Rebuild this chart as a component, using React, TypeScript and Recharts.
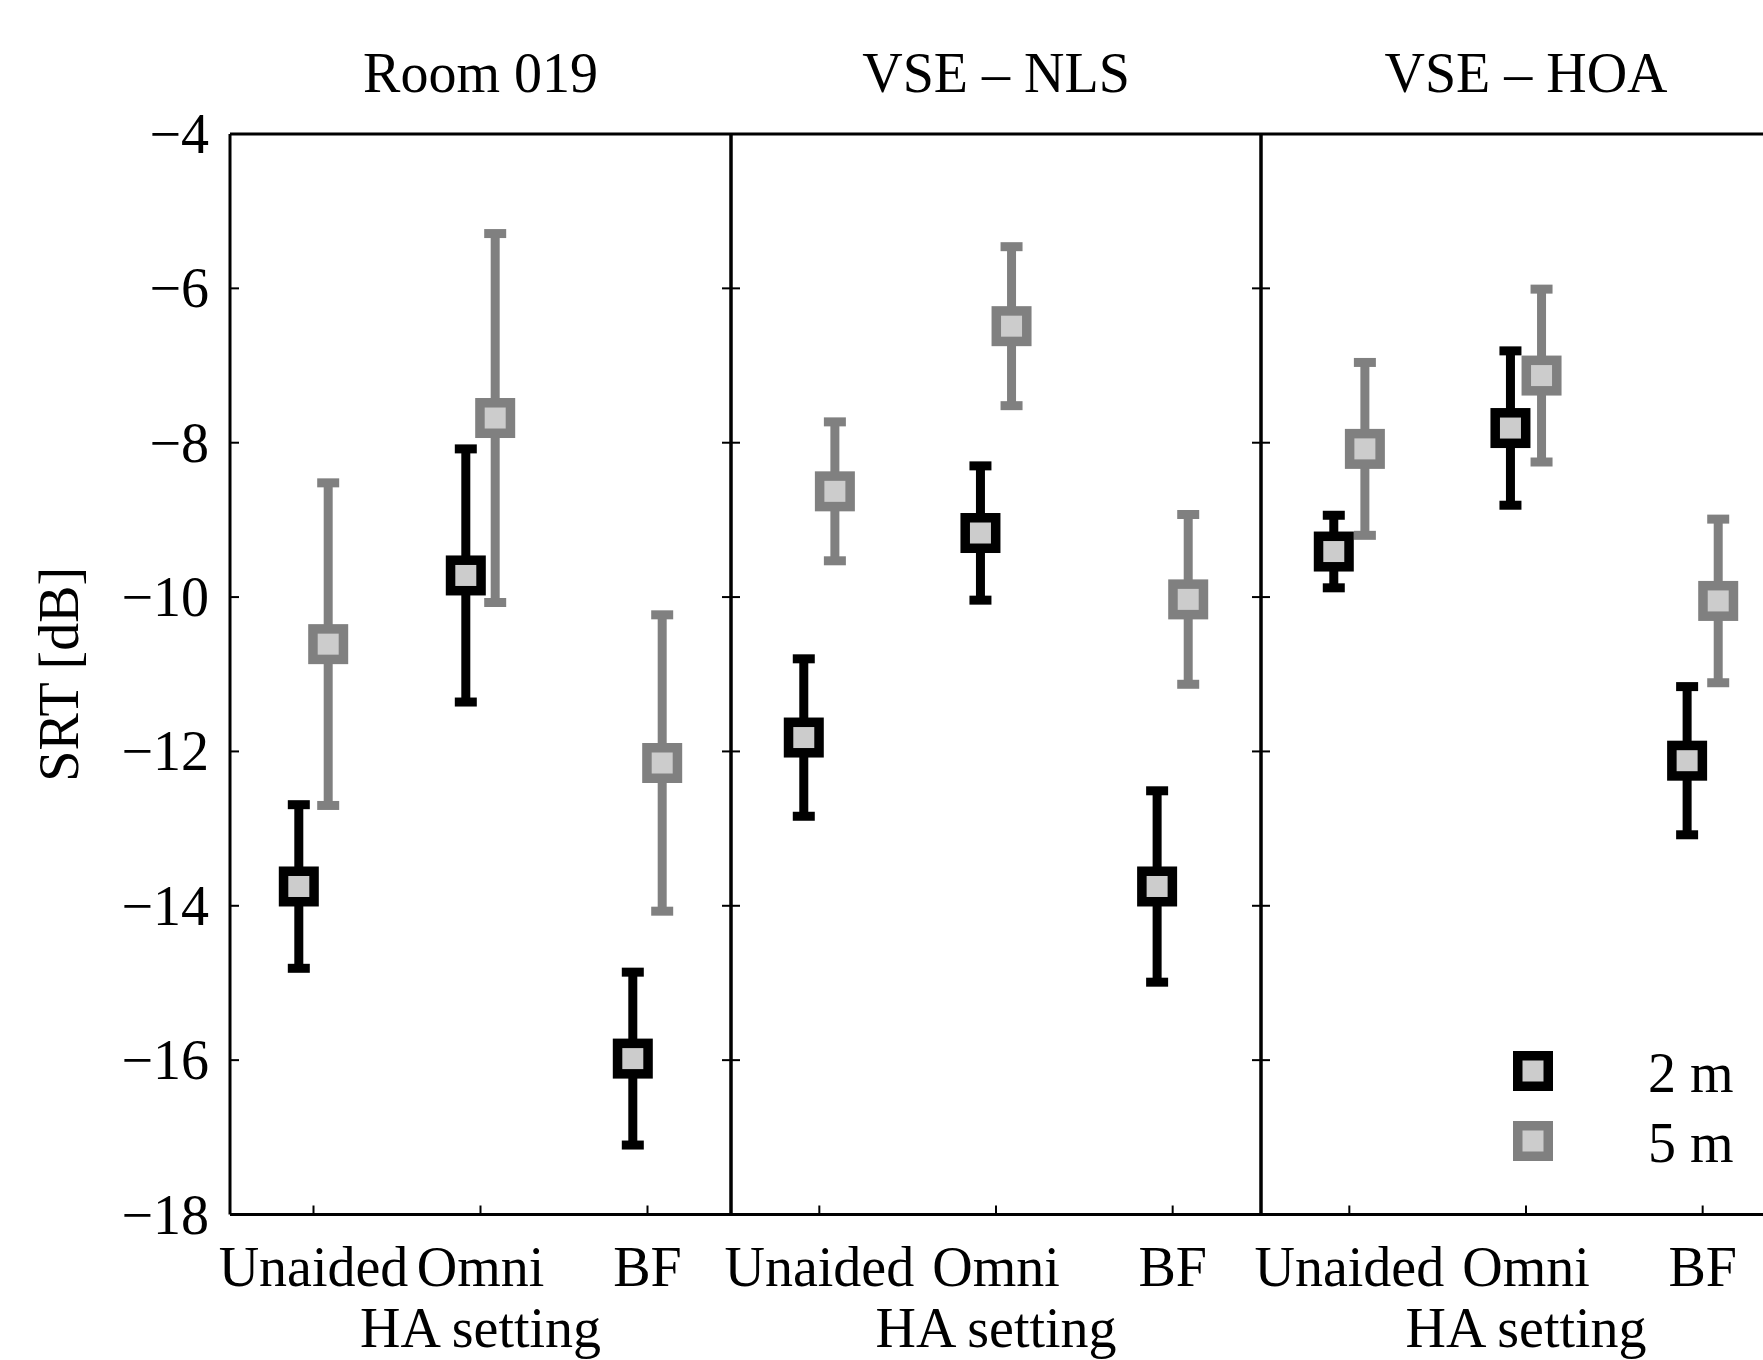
import React from 'react';
import { ScatterChart, Scatter, XAxis, YAxis, ErrorBar, Legend } from 'recharts';

const FONT = '"Liberation Serif", "Times New Roman", serif';
const FONT_SIZE = 56;

// category axis + panels
const categories = ['Unaided', 'Omni', 'BF'];
const panelTitles = ['Room 019', 'VSE – NLS', 'VSE – HOA'];
const yTicks = [-18, -16, -14, -12, -10, -8, -6, -4];
const seriesNames = ['2 m', '5 m'];
const seriesColors = ['#000000', '#808080'];

// SRT means [dB] and error half-widths, in category order
const room019Near = [-13.75, -9.72, -15.98];
const room019NearErr = [1.06, 1.64, 1.12];
const room019Far = [-10.61, -7.68, -12.15];
const room019FarErr = [2.09, 2.39, 1.92];

const nlsNear = [-11.82, -9.17, -13.75];
const nlsNearErr = [1.02, 0.87, 1.24];
const nlsFar = [-8.63, -6.49, -10.03];
const nlsFarErr = [0.9, 1.03, 1.1];

const hoaNear = [-9.41, -7.81, -12.12];
const hoaNearErr = [0.47, 1.0, 0.96];
const hoaFar = [-8.08, -7.13, -10.05];
const hoaFarErr = [1.12, 1.12, 1.06];

// horizontal dodge between the two distances (in category units)
const DODGE = 0.088;

const toPoints = (vals: number[], errs: number[], shift: number) =>
    vals.map((v, i) => ({ x: i + 1 + shift, y: v, err: errs[i] }));

const panelData = [
    [toPoints(room019Near, room019NearErr, -DODGE), toPoints(room019Far, room019FarErr, DODGE)],
    [toPoints(nlsNear, nlsNearErr, -DODGE), toPoints(nlsFar, nlsFarErr, DODGE)],
    [toPoints(hoaNear, hoaNearErr, -DODGE), toPoints(hoaFar, hoaFarErr, DODGE)],
];

// layout: page px
const CHART_H = 1360;
const TOP_H = 134;
const BOTTOM_H = 145.5;
const panelBoxes = [
    { left: 0, leftW: 230, plotW: 501, rightW: 100 },
    { left: 631, leftW: 100, plotW: 530, rightW: 100 },
    { left: 1161, leftW: 100, plotW: 530, rightW: 100 },
];

const fmt = (v: number) => (v < 0 ? '\u2212' + Math.abs(v) : String(v));

const BoxMarker = (color: string) => (props: any) => {
    const { cx, cy } = props;
    const s = 30.5;
    return <rect x={cx - s / 2} y={cy - s / 2} width={s} height={s} fill="#cccccc" stroke={color} strokeWidth={9.5} />;
};

const BottomTick = (props: any) => {
    const { x, y, payload } = props;
    return (
        <g>
            <line x1={x} y1={y} x2={x} y2={y - 9} stroke="#000" strokeWidth={2} />
            <text x={x} y={y + 71} textAnchor="middle" fontSize={FONT_SIZE} fontFamily={FONT} fill="#000">
                {categories[Math.round(payload.value) - 1]}
            </text>
        </g>
    );
};

const TopTick = (props: any) => {
    const { x, y } = props;
    return <line x1={x} y1={y} x2={x} y2={y + 9} stroke="#000" strokeWidth={2} />;
};

const LeftTick = (withLabel: boolean) => (props: any) => {
    const { x, y, payload } = props;
    return (
        <g>
            <line x1={x} y1={y} x2={x + 9} y2={y} stroke="#000" strokeWidth={2} />
            {withLabel && (
                <text x={x - 21} y={y + 19} textAnchor="end" fontSize={FONT_SIZE} fontFamily={FONT} fill="#000">
                    {fmt(payload.value)}
                </text>
            )}
        </g>
    );
};

const RightTick = (props: any) => {
    const { x, y } = props;
    return <line x1={x} y1={y} x2={x - 9} y2={y} stroke="#000" strokeWidth={2} />;
};

const TitleLabel = (title: string) => (props: any) => {
    const vb = props.viewBox || {};
    return (
        <text x={vb.x + vb.width / 2} y={vb.y + vb.height - 42} textAnchor="middle" fontSize={FONT_SIZE} fontFamily={FONT} fill="#000">
            {title}
        </text>
    );
};

const XTitle = (props: any) => {
    const vb = props.viewBox || {};
    return (
        <text x={vb.x + vb.width / 2} y={vb.y + 132} textAnchor="middle" fontSize={FONT_SIZE} fontFamily={FONT} fill="#000">
            HA setting
        </text>
    );
};

const YTitle = (props: any) => {
    const vb = props.viewBox || {};
    const cx = 78;
    const cy = vb.y + vb.height / 2;
    return (
        <text x={cx} y={cy} transform={`rotate(-90, ${cx}, ${cy})`} textAnchor="middle" fontSize={FONT_SIZE} fontFamily={FONT} fill="#000">
            SRT [dB]
        </text>
    );
};

const LegendBox = (props: any) => {
    const payload = props.payload || [];
    return (
        <svg width={260} height={150}>
            {seriesNames.map((name, i) => {
                const entry = payload[i];
                const color = seriesColors[i];
                const cy = 41 + i * 70;
                return (
                    <g key={name}>
                        <rect x={32 - 15.25} y={cy - 15.25} width={30.5} height={30.5} fill="#cccccc" stroke={color} strokeWidth={9.5} />
                        <text x={147} y={cy + 21} fontSize={FONT_SIZE} fontFamily={FONT} fill="#000">
                            {entry ? entry.value : name}
                        </text>
                    </g>
                );
            })}
        </svg>
    );
};

const axisLine = { stroke: '#000', strokeWidth: 3 };

function Panel({ index }: { index: number }) {
    const box = panelBoxes[index];
    const width = box.leftW + box.plotW + box.rightW;
    const data = panelData[index];
    return (
        <div style={{ position: 'absolute', left: box.left, top: 0, width, height: CHART_H }}>
            <ScatterChart width={width} height={CHART_H} margin={{ top: 0, right: 0, bottom: 0, left: 0 }}>
                <XAxis
                    xAxisId="b"
                    type="number"
                    dataKey="x"
                    orientation="bottom"
                    domain={[0.5, 3.5]}
                    ticks={[1, 2, 3]}
                    allowDataOverflow
                    height={BOTTOM_H}
                    tickSize={0}
                    tickMargin={0}
                    interval={0}
                    axisLine={axisLine}
                    tickLine={false}
                    tick={BottomTick}
                    label={XTitle}
                />
                <XAxis
                    xAxisId="t"
                    type="number"
                    orientation="top"
                    domain={[0.5, 3.5]}
                    ticks={[1, 2, 3]}
                    allowDataOverflow
                    height={TOP_H}
                    tickSize={0}
                    tickMargin={0}
                    interval={0}
                    axisLine={axisLine}
                    tickLine={false}
                    tick={TopTick}
                    label={TitleLabel(panelTitles[index])}
                />
                <YAxis
                    yAxisId="l"
                    type="number"
                    dataKey="y"
                    orientation="left"
                    domain={[-18, -4]}
                    ticks={yTicks}
                    allowDataOverflow
                    width={box.leftW}
                    tickSize={0}
                    tickMargin={0}
                    interval={0}
                    axisLine={axisLine}
                    tickLine={false}
                    tick={LeftTick(index === 0)}
                    label={index === 0 ? YTitle : undefined}
                />
                <YAxis
                    yAxisId="r"
                    type="number"
                    orientation="right"
                    domain={[-18, -4]}
                    ticks={yTicks}
                    allowDataOverflow
                    width={box.rightW}
                    tickSize={0}
                    tickMargin={0}
                    interval={0}
                    axisLine={axisLine}
                    tickLine={false}
                    tick={RightTick}
                />
                {data.map((pts, s) => (
                    <Scatter
                        key={seriesNames[s]}
                        name={seriesNames[s]}
                        data={pts}
                        xAxisId="b"
                        yAxisId="l"
                        fill={seriesColors[s]}
                        shape={BoxMarker(seriesColors[s])}
                        isAnimationActive={false}
                    >
                        <ErrorBar dataKey="err" direction="y" width={11} strokeWidth={9} stroke={seriesColors[s]} />
                    </Scatter>
                ))}
                {index === 2 && (
                    <Legend
                        layout="vertical"
                        align="center"
                        verticalAlign="middle"
                        content={LegendBox}
                        wrapperStyle={{ position: 'absolute', left: 340, top: 1030, width: 260, height: 150 }}
                    />
                )}
            </ScatterChart>
        </div>
    );
}

export default function App() {
    return (
        <div style={{ position: 'absolute', left: 0, top: 0, width: 1763, height: 1360, overflow: 'hidden', background: '#fff' }}>
            {[0, 1, 2].map(i => (
                <Panel key={i} index={i} />
            ))}
        </div>
    );
}
